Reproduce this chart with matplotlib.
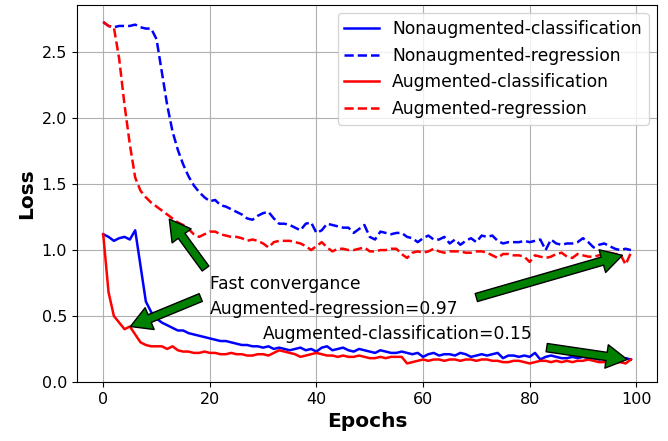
#=========================================================================
# loss curves: augmented vs nonaugmented training
#=========================================================================

import matplotlib
matplotlib.use('Agg')
import matplotlib.pyplot as plt
import numpy as np

#-------------------------------------------------------------------------
# Raw data
#-------------------------------------------------------------------------

epochs = np.arange(100)

nonaug_cls = [
  1.12, 1.10, 1.07, 1.09, 1.10, 1.08, 1.15, 0.88, 0.61, 0.53,
  0.48, 0.45, 0.43, 0.41, 0.39, 0.39, 0.37, 0.36, 0.35, 0.34,
  0.33, 0.32, 0.31, 0.31, 0.30, 0.29, 0.28, 0.28, 0.27, 0.27,
  0.26, 0.27, 0.25, 0.26, 0.25, 0.24, 0.25, 0.26, 0.24, 0.25,
  0.23, 0.26, 0.27, 0.24, 0.25, 0.26, 0.24, 0.23, 0.25, 0.24,
  0.23, 0.22, 0.24, 0.23, 0.22, 0.22, 0.23, 0.22, 0.21, 0.22,
  0.19, 0.21, 0.22, 0.20, 0.21, 0.21, 0.20, 0.22, 0.21, 0.19,
  0.20, 0.21, 0.20, 0.21, 0.22, 0.18, 0.20, 0.20, 0.19, 0.20,
  0.19, 0.22, 0.17, 0.19, 0.20, 0.19, 0.18, 0.18, 0.19, 0.18,
  0.19, 0.18, 0.18, 0.17, 0.18, 0.17, 0.17, 0.17, 0.18, 0.17,
]

nonaug_reg = [
  2.73, 2.70, 2.69, 2.70, 2.70, 2.70, 2.71, 2.69, 2.68, 2.68,
  2.60, 2.35, 2.10, 1.90, 1.76, 1.65, 1.56, 1.49, 1.44, 1.40,
  1.37, 1.38, 1.34, 1.33, 1.31, 1.29, 1.27, 1.24, 1.23, 1.26,
  1.28, 1.29, 1.24, 1.20, 1.20, 1.19, 1.17, 1.15, 1.20, 1.21,
  1.13, 1.15, 1.20, 1.19, 1.18, 1.17, 1.17, 1.13, 1.16, 1.19,
  1.10, 1.08, 1.14, 1.13, 1.12, 1.13, 1.13, 1.10, 1.09, 1.06,
  1.09, 1.11, 1.08, 1.08, 1.10, 1.05, 1.08, 1.04, 1.07, 1.09,
  1.06, 1.11, 1.10, 1.11, 1.07, 1.05, 1.06, 1.06, 1.06, 1.07,
  1.06, 1.07, 1.08, 1.00, 1.08, 1.05, 1.04, 1.05, 1.05, 1.06,
  1.09, 1.06, 1.02, 1.04, 1.05, 1.03, 1.01, 1.00, 1.01, 1.00,
]

aug_cls = [
  1.12, 0.68, 0.50, 0.45, 0.40, 0.42, 0.36, 0.30, 0.28, 0.27,
  0.27, 0.27, 0.25, 0.27, 0.24, 0.23, 0.23, 0.22, 0.22, 0.23,
  0.22, 0.22, 0.21, 0.21, 0.22, 0.21, 0.21, 0.20, 0.20, 0.21,
  0.21, 0.20, 0.22, 0.24, 0.23, 0.22, 0.21, 0.19, 0.20, 0.21,
  0.22, 0.21, 0.20, 0.20, 0.19, 0.20, 0.19, 0.19, 0.20, 0.19,
  0.18, 0.18, 0.19, 0.18, 0.19, 0.19, 0.19, 0.14, 0.15, 0.16,
  0.17, 0.16, 0.17, 0.17, 0.16, 0.17, 0.17, 0.16, 0.17, 0.17,
  0.16, 0.17, 0.17, 0.16, 0.16, 0.15, 0.15, 0.16, 0.16, 0.15,
  0.14, 0.15, 0.16, 0.16, 0.15, 0.16, 0.15, 0.16, 0.15, 0.16,
  0.16, 0.17, 0.16, 0.15, 0.15, 0.16, 0.15, 0.15, 0.14, 0.17,
]

aug_reg = [
  2.73, 2.70, 2.69, 2.45, 2.10, 1.80, 1.55, 1.45, 1.40, 1.36,
  1.33, 1.30, 1.27, 1.24, 1.21, 1.19, 1.16, 1.12, 1.10, 1.12,
  1.14, 1.14, 1.12, 1.11, 1.10, 1.10, 1.09, 1.07, 1.08, 1.07,
  1.05, 1.02, 1.06, 1.07, 1.07, 1.07, 1.06, 1.05, 1.03, 1.00,
  1.03, 1.06, 1.02, 0.99, 1.01, 1.01, 1.00, 1.00, 1.01, 1.02,
  0.99, 0.99, 1.00, 1.00, 1.01, 1.01, 0.97, 0.94, 0.98, 0.99,
  0.98, 0.99, 1.01, 0.99, 0.98, 0.99, 0.99, 0.99, 0.98, 0.98,
  0.99, 0.99, 0.98, 0.96, 0.94, 0.97, 0.97, 0.96, 0.96, 0.95,
  0.91, 0.96, 0.95, 0.94, 0.95, 0.97, 0.98, 0.95, 0.94, 0.97,
  0.96, 0.95, 0.95, 0.96, 0.97, 0.98, 0.97, 0.97, 0.89, 0.98,
]

labels = [
  'Nonaugmented-classification',
  'Nonaugmented-regression',
  'Augmented-classification',
  'Augmented-regression',
]

#-------------------------------------------------------------------------
# Create plot
#-------------------------------------------------------------------------

plt.rcParams['font.size'] = 11.5

fig = plt.figure(figsize=(6.68, 4.41), dpi=100)
ax  = fig.add_subplot(111)
fig.subplots_adjust(left=0.115, right=0.984, top=0.989, bottom=0.134)

ax.plot(epochs, nonaug_cls, 'b-',  label=labels[0], lw=1.8)
ax.plot(epochs, nonaug_reg, 'b--', label=labels[1], lw=1.8)
ax.plot(epochs, aug_cls,    'r-',  label=labels[2], lw=1.8)
ax.plot(epochs, aug_reg,    'r--', label=labels[3], lw=1.8)

# Arrows

arrow = dict(facecolor='green', edgecolor='black', width=6,
             headwidth=17, headlength=15, shrink=0.0)

ax.annotate('', xy=(12.4, 1.235), xytext=(19.2, 0.86), arrowprops=arrow)
ax.annotate('', xy=(5.1, 0.42),   xytext=(18.3, 0.64), arrowprops=arrow)
ax.annotate('', xy=(97.4, 0.96),  xytext=(70.0, 0.64), arrowprops=arrow)
ax.annotate('', xy=(98.3, 0.17),  xytext=(83.2, 0.26), arrowprops=arrow)

# Text

ax.text(20, 0.74, 'Fast convergance', va='center', fontsize=12.3)
ax.text(20, 0.55, 'Augmented-regression=0.97', va='center', fontsize=12.3)
ax.text(30, 0.36, 'Augmented-classification=0.15', va='center', fontsize=12.3)

# Axes formatting

ax.set_xlim(-4.95, 103.95)
ax.set_ylim(0, 2.86)
ax.set_xlabel('Epochs', fontweight='bold', fontsize=14.5)
ax.set_ylabel('Loss', fontweight='bold', fontsize=14.5)
ax.grid(True)

ax.legend(loc='upper right', fontsize=12.3)

fig.savefig('out.png', dpi=100)
